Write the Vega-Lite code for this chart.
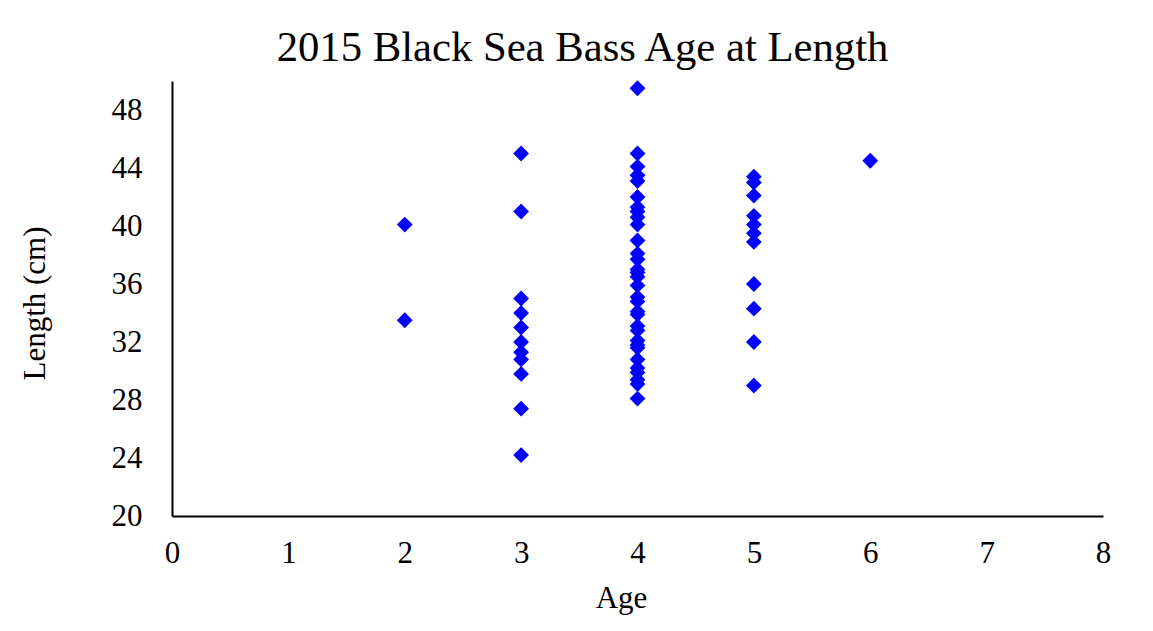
{
  "$schema": "https://vega.github.io/schema/vega-lite/v6.json",
  "autosize": "none",
  "width": 931,
  "height": 435,
  "padding": {"left": 172, "top": 81, "right": 50, "bottom": 115},
  "background": "white",
  "title": {
    "text": "2015 Black Sea Bass Age at Length",
    "font": "Liberation Serif",
    "fontSize": 42.7,
    "fontWeight": "normal",
    "color": "black",
    "anchor": "middle",
    "dx": -55,
    "offset": 11
  },
  "data": {
    "values": [
      {"age": 2, "length": 40.1}, {"age": 2, "length": 33.5},
      {"age": 3, "length": 45.0}, {"age": 3, "length": 41.0}, {"age": 3, "length": 35.0},
      {"age": 3, "length": 34.0}, {"age": 3, "length": 33.0}, {"age": 3, "length": 32.0},
      {"age": 3, "length": 31.3}, {"age": 3, "length": 30.8}, {"age": 3, "length": 29.8},
      {"age": 3, "length": 27.4}, {"age": 3, "length": 24.2},
      {"age": 4, "length": 49.5}, {"age": 4, "length": 45.0}, {"age": 4, "length": 44.1},
      {"age": 4, "length": 43.5}, {"age": 4, "length": 43.1}, {"age": 4, "length": 42.0},
      {"age": 4, "length": 41.3}, {"age": 4, "length": 41.0}, {"age": 4, "length": 40.6},
      {"age": 4, "length": 40.1}, {"age": 4, "length": 39.0}, {"age": 4, "length": 38.1},
      {"age": 4, "length": 37.7}, {"age": 4, "length": 37.0}, {"age": 4, "length": 36.8},
      {"age": 4, "length": 36.5}, {"age": 4, "length": 35.9}, {"age": 4, "length": 35.1},
      {"age": 4, "length": 34.8}, {"age": 4, "length": 34.1}, {"age": 4, "length": 33.9},
      {"age": 4, "length": 33.1}, {"age": 4, "length": 32.8}, {"age": 4, "length": 32.1},
      {"age": 4, "length": 31.8}, {"age": 4, "length": 31.6}, {"age": 4, "length": 30.8},
      {"age": 4, "length": 30.2}, {"age": 4, "length": 29.9}, {"age": 4, "length": 29.4},
      {"age": 4, "length": 29.1}, {"age": 4, "length": 28.1},
      {"age": 5, "length": 43.4}, {"age": 5, "length": 43.0}, {"age": 5, "length": 42.1},
      {"age": 5, "length": 40.7}, {"age": 5, "length": 40.1}, {"age": 5, "length": 39.5},
      {"age": 5, "length": 38.9}, {"age": 5, "length": 36.0}, {"age": 5, "length": 34.3},
      {"age": 5, "length": 32.0}, {"age": 5, "length": 29.0},
      {"age": 6, "length": 44.5}
    ]
  },
  "mark": {"type": "point", "shape": "diamond", "filled": true, "color": "#0000FF", "opacity": 1, "size": 250},
  "encoding": {
    "x": {
      "field": "age", "type": "quantitative",
      "scale": {"domain": [0, 8], "nice": false, "zero": false},
      "axis": {
        "title": "Age",
        "values": [0, 1, 2, 3, 4, 5, 6, 7, 8],
        "format": "d",
        "grid": false,
        "ticks": false,
        "labelFlush": false,
        "labelPadding": 22,
        "labelBaseline": "top",
        "titleX": 449,
        "titleY": 91,
        "titleBaseline": "alphabetic",
        "titleAnchor": null
      }
    },
    "y": {
      "field": "length", "type": "quantitative",
      "scale": {"domain": [20, 50], "nice": false, "zero": false},
      "axis": {
        "title": "Length (cm)",
        "values": [20, 24, 28, 32, 36, 40, 44, 48],
        "format": "d",
        "grid": false,
        "ticks": false,
        "labelFlush": false,
        "labelPadding": 30,
        "titleX": -128,
        "titleY": 222,
        "titleAngle": -90,
        "titleAlign": "center",
        "titleBaseline": "alphabetic",
        "titleAnchor": null
      }
    }
  },
  "config": {
    "view": {"stroke": null},
    "axis": {
      "domainColor": "black",
      "domainWidth": 2,
      "labelFont": "Liberation Serif",
      "labelFontSize": 31,
      "labelColor": "black",
      "titleFont": "Liberation Serif",
      "titleFontSize": 31,
      "titleFontWeight": "normal",
      "titleColor": "black"
    }
  }
}
